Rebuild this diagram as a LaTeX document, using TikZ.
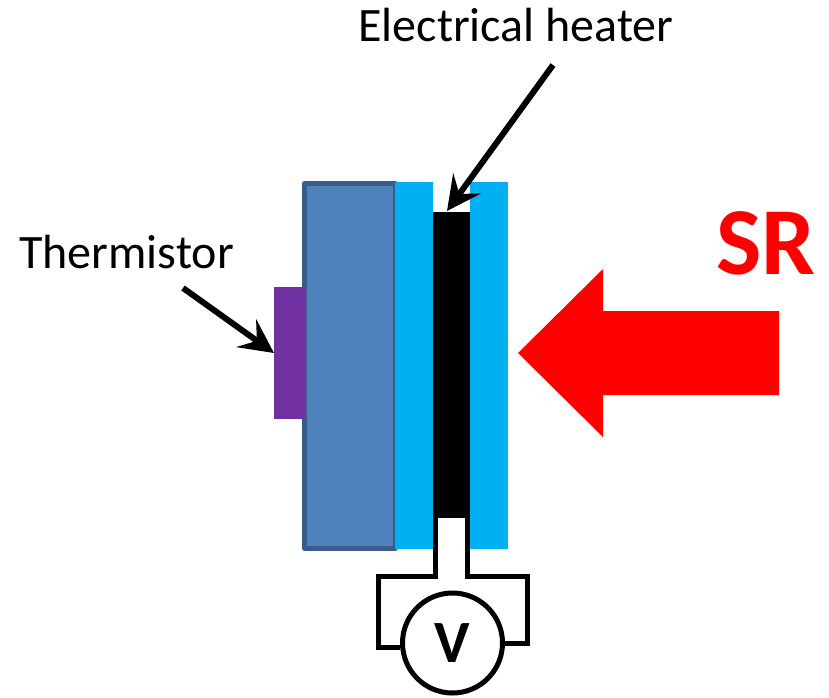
\documentclass[tikz,border=0pt]{standalone}
\usepackage{fontspec}
\setmainfont{Carlito}
\usetikzlibrary{arrows.meta}

\definecolor{plateblue}{HTML}{4F81BD}
\definecolor{plateedge}{HTML}{385D8A}
\definecolor{layercyan}{HTML}{00B0F0}
\definecolor{sensorpurple}{HTML}{7030A0}

\tikzset{
  layer/.style={inner sep=0pt, outer sep=0pt, anchor=north west},
  wire/.style={line width=5.0pt, line cap=butt, line join=miter},
  pointer/.style={line width=6.0pt, -{Stealth[length=34pt, width=34pt, inset=13pt]}},
  label/.style={inner sep=0pt, font=\fontsize{48}{58}\selectfont}
}

\begin{document}
\begin{tikzpicture}[x=1pt, y=-1pt, line join=round]

  %% plate and layers
  \draw[plateedge, fill=plateblue, line width=5.0pt] (304.5,183.5) rectangle (395.0,548.0);
  \node[layer, fill=layercyan, minimum width=38pt, minimum height=367pt] (front) at (395,182) {};
  \node[layer, fill=layercyan, minimum width=38pt, minimum height=367pt] (back) at (470,182) {};
  \node[layer, fill=black, minimum width=37pt, minimum height=306pt] (heater) at (433,212) {};
  \node[layer, fill=sensorpurple, minimum width=31pt, minimum height=132pt] (thermistor) at (274,287) {};

  %% voltmeter
  \node[circle, draw, line width=5.0pt, inner sep=0pt, minimum size=100pt,
        font=\fontsize{60}{72}\selectfont\bfseries] (volt) at (452.5,643) {V};
  \draw[wire] (435.5,518) -- (435.5,576) -- (378,576) -- (378,647) -- (volt.west |- 0,647);
  \draw[wire] (467.5,518) -- (467.5,576) -- (527,576) -- (527,643) -- (volt.east);

  %% red arrow
  \fill[red] (518,353) -- (603,269) -- (603,311) -- (779,311) -- (779,395) -- (603,395) -- (603,437) -- cycle;

  %% labels
  \node[label] (heaterlabel) at (516,25) {Electrical heater};
  \node[label] (thermlabel) at (126.5,252) {Thermistor};
  \node[inner sep=0pt, text=red, font=\fontsize{96}{115}\selectfont\bfseries] (srlabel) at (766,243) {SR};

  %% pointers
  \coordinate (heatertail) at (553,65);
  \coordinate (thermtail) at (183,288);
  \draw[pointer] (heatertail) -- (447,211);
  \draw[pointer] (thermtail) -- (thermistor.west);

  \pgfresetboundingbox
  \path[use as bounding box] (0,0) rectangle (829,697);
\end{tikzpicture}
\end{document}
